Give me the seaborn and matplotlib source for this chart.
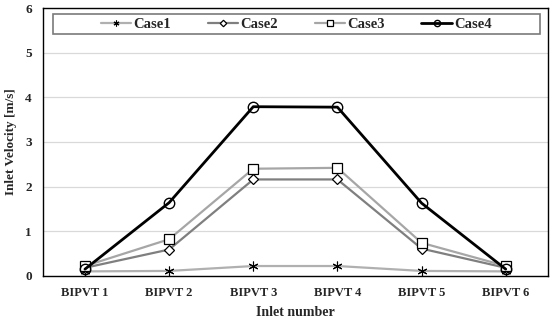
import matplotlib
matplotlib.use("Agg")
import matplotlib.pyplot as plt
from matplotlib.patches import Rectangle
import seaborn as sns
import pandas as pd

categories = ["BIPVT 1", "BIPVT 2", "BIPVT 3", "BIPVT 4", "BIPVT 5", "BIPVT 6"]
case1 = [0.10, 0.11, 0.22, 0.22, 0.11, 0.10]
case2 = [0.18, 0.59, 2.16, 2.16, 0.61, 0.18]
case3 = [0.22, 0.82, 2.40, 2.42, 0.74, 0.22]
case4 = [0.15, 1.64, 3.79, 3.78, 1.63, 0.15]
series_names = ["Case1", "Case2", "Case3", "Case4"]

sns.set_theme(style="white")
plt.rcParams["font.family"] = ["Liberation Serif", "DejaVu Serif"]
plt.rcParams["font.weight"] = "bold"

fig = plt.figure(figsize=(5.5, 3.23), dpi=100)
ax = fig.add_axes([0.078, 0.146, 0.918, 0.829])

styles = {
    "Case1": dict(color="#b0b0b0", marker=(6, 2, 0), lw=1.6, ms=7, mfc="none", mec="black", mew=0.8),
    "Case2": dict(color="#7f7f7f", marker="D", lw=1.6, ms=5.5, mfc="white", mec="black", mew=0.9),
    "Case3": dict(color="#a6a6a6", marker="s", lw=1.6, ms=6.5, mfc="white", mec="black", mew=0.9),
    "Case4": dict(color="black", marker="o", lw=2.0, ms=7.5, mfc="none", mec="black", mew=1.0),
}
data = {"Case1": case1, "Case2": case2, "Case3": case3, "Case4": case4}
x = list(range(len(categories)))
for name in series_names:
    st = styles[name]
    df = pd.DataFrame({"x": x, "y": data[name]})
    sns.lineplot(data=df, x="x", y="y", ax=ax, color=st["color"], lw=st["lw"],
                 marker=st["marker"], markersize=st["ms"], markerfacecolor=st["mfc"],
                 markeredgecolor=st["mec"], markeredgewidth=st["mew"], label=name)

ax.set_xlim(-0.5, len(categories) - 0.5)
ax.set_ylim(0, 6)
ax.set_xticks(x)
ax.set_xticklabels(categories, fontsize=9, fontweight="bold")
ax.set_yticks(range(0, 7))
ax.set_yticklabels([str(i) for i in range(0, 7)], fontsize=9.5, fontweight="bold")
ax.tick_params(axis="both", length=0, pad=8)
ax.yaxis.grid(True, color="#d9d9d9", lw=0.9)
ax.set_axisbelow(True)
for s in ax.spines.values():
    s.set_color("black")
    s.set_linewidth(1.0)
ax.set_xlabel("Inlet number", fontsize=10, fontweight="bold", labelpad=5)
ax.set_ylabel("Inlet Velocity [m/s]", fontsize=9.5, fontweight="bold", labelpad=6)

frame = Rectangle((0.020, 0.903), 0.964, 0.075, transform=ax.transAxes,
                  facecolor="white", edgecolor="#7a7a7a", lw=1.2, zorder=4)
ax.add_patch(frame)
leg = ax.legend(loc="center", bbox_to_anchor=(0.502, 0.940), ncol=4, frameon=False,
                fontsize=10.5, handlelength=2.1, handletextpad=0.15, columnspacing=2.5,
                markerscale=0.6, borderpad=0.1)
leg.set_zorder(5)
for t in leg.get_texts():
    t.set_fontweight("bold")

fig.savefig("out.png", dpi=100)
